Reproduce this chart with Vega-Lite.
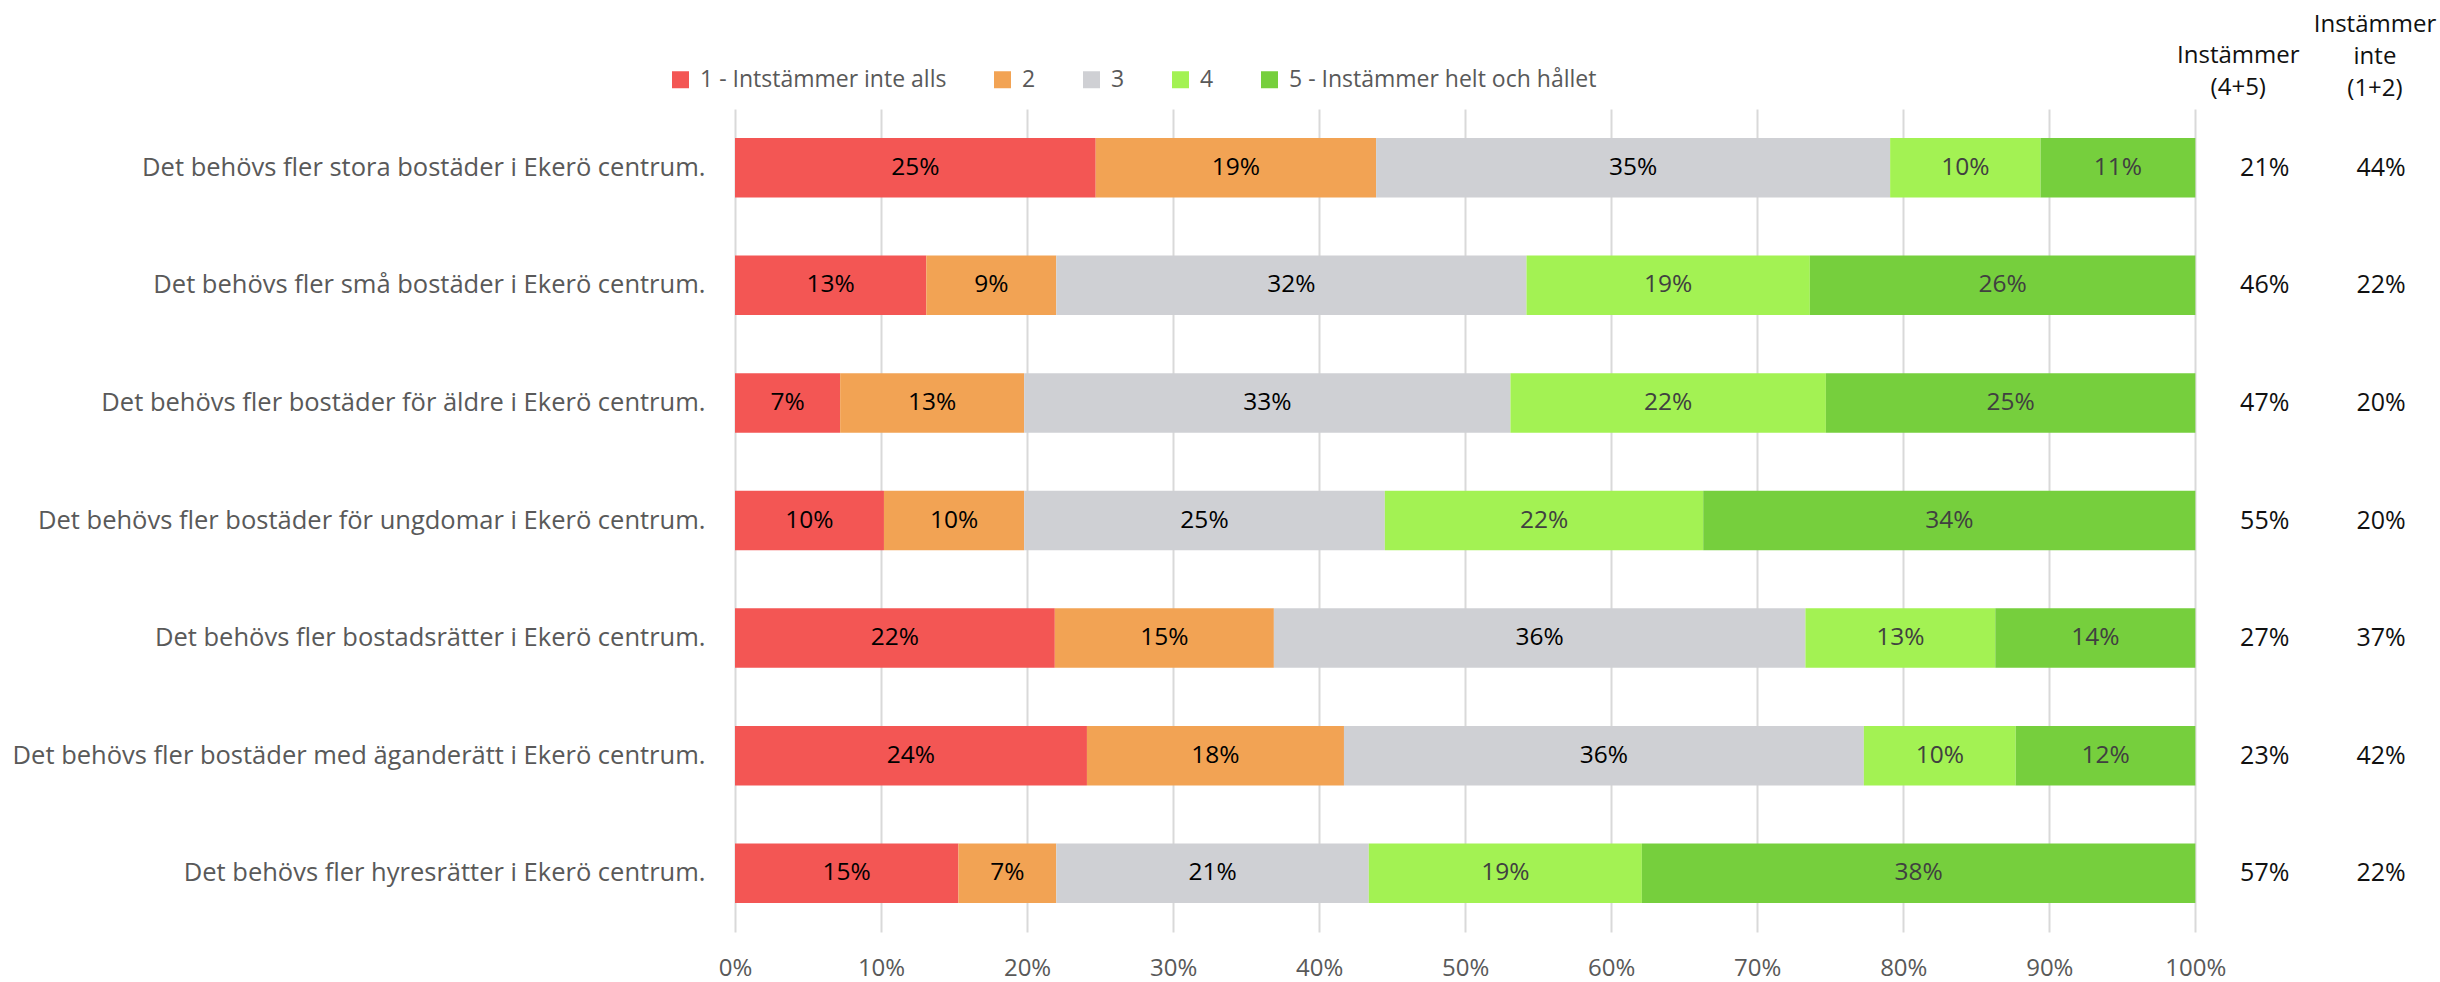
{
  "$schema": "https://vega.github.io/schema/vega-lite/v6.json",
  "autosize": {"type": "none"},
  "padding": {"left": 735, "top": 109, "right": 11, "bottom": 50},
  "width": 1694,
  "height": 823,
  "background": "white",
  "config": {"view": {"stroke": null}, "font": "Open Sans"},
  "datasets": {
    "bars": [
      {"q": "Det behövs fler stora bostäder i Ekerö centrum.", "cat": "1 - Intstämmer inte alls", "v": 0.247},
      {"q": "Det behövs fler stora bostäder i Ekerö centrum.", "cat": "2", "v": 0.192},
      {"q": "Det behövs fler stora bostäder i Ekerö centrum.", "cat": "3", "v": 0.352},
      {"q": "Det behövs fler stora bostäder i Ekerö centrum.", "cat": "4", "v": 0.103},
      {"q": "Det behövs fler stora bostäder i Ekerö centrum.", "cat": "5 - Instämmer helt och hållet", "v": 0.106},
      {"q": "Det behövs fler små bostäder i Ekerö centrum.", "cat": "1 - Intstämmer inte alls", "v": 0.131},
      {"q": "Det behövs fler små bostäder i Ekerö centrum.", "cat": "2", "v": 0.089},
      {"q": "Det behövs fler små bostäder i Ekerö centrum.", "cat": "3", "v": 0.322},
      {"q": "Det behövs fler små bostäder i Ekerö centrum.", "cat": "4", "v": 0.194},
      {"q": "Det behövs fler små bostäder i Ekerö centrum.", "cat": "5 - Instämmer helt och hållet", "v": 0.264},
      {"q": "Det behövs fler bostäder för äldre i Ekerö centrum.", "cat": "1 - Intstämmer inte alls", "v": 0.072},
      {"q": "Det behövs fler bostäder för äldre i Ekerö centrum.", "cat": "2", "v": 0.126},
      {"q": "Det behövs fler bostäder för äldre i Ekerö centrum.", "cat": "3", "v": 0.333},
      {"q": "Det behövs fler bostäder för äldre i Ekerö centrum.", "cat": "4", "v": 0.216},
      {"q": "Det behövs fler bostäder för äldre i Ekerö centrum.", "cat": "5 - Instämmer helt och hållet", "v": 0.253},
      {"q": "Det behövs fler bostäder för ungdomar i Ekerö centrum.", "cat": "1 - Intstämmer inte alls", "v": 0.102},
      {"q": "Det behövs fler bostäder för ungdomar i Ekerö centrum.", "cat": "2", "v": 0.096},
      {"q": "Det behövs fler bostäder för ungdomar i Ekerö centrum.", "cat": "3", "v": 0.247},
      {"q": "Det behövs fler bostäder för ungdomar i Ekerö centrum.", "cat": "4", "v": 0.218},
      {"q": "Det behövs fler bostäder för ungdomar i Ekerö centrum.", "cat": "5 - Instämmer helt och hållet", "v": 0.337},
      {"q": "Det behövs fler bostadsrätter i Ekerö centrum.", "cat": "1 - Intstämmer inte alls", "v": 0.219},
      {"q": "Det behövs fler bostadsrätter i Ekerö centrum.", "cat": "2", "v": 0.150},
      {"q": "Det behövs fler bostadsrätter i Ekerö centrum.", "cat": "3", "v": 0.364},
      {"q": "Det behövs fler bostadsrätter i Ekerö centrum.", "cat": "4", "v": 0.130},
      {"q": "Det behövs fler bostadsrätter i Ekerö centrum.", "cat": "5 - Instämmer helt och hållet", "v": 0.137},
      {"q": "Det behövs fler bostäder med äganderätt i Ekerö centrum.", "cat": "1 - Intstämmer inte alls", "v": 0.241},
      {"q": "Det behövs fler bostäder med äganderätt i Ekerö centrum.", "cat": "2", "v": 0.176},
      {"q": "Det behövs fler bostäder med äganderätt i Ekerö centrum.", "cat": "3", "v": 0.356},
      {"q": "Det behövs fler bostäder med äganderätt i Ekerö centrum.", "cat": "4", "v": 0.104},
      {"q": "Det behövs fler bostäder med äganderätt i Ekerö centrum.", "cat": "5 - Instämmer helt och hållet", "v": 0.123},
      {"q": "Det behövs fler hyresrätter i Ekerö centrum.", "cat": "1 - Intstämmer inte alls", "v": 0.153},
      {"q": "Det behövs fler hyresrätter i Ekerö centrum.", "cat": "2", "v": 0.067},
      {"q": "Det behövs fler hyresrätter i Ekerö centrum.", "cat": "3", "v": 0.214},
      {"q": "Det behövs fler hyresrätter i Ekerö centrum.", "cat": "4", "v": 0.187},
      {"q": "Det behövs fler hyresrätter i Ekerö centrum.", "cat": "5 - Instämmer helt och hållet", "v": 0.379}
    ],
    "totals": [
      {"q": "Det behövs fler stora bostäder i Ekerö centrum.", "agree": 0.21, "disagree": 0.44},
      {"q": "Det behövs fler små bostäder i Ekerö centrum.", "agree": 0.46, "disagree": 0.22},
      {"q": "Det behövs fler bostäder för äldre i Ekerö centrum.", "agree": 0.47, "disagree": 0.20},
      {"q": "Det behövs fler bostäder för ungdomar i Ekerö centrum.", "agree": 0.55, "disagree": 0.20},
      {"q": "Det behövs fler bostadsrätter i Ekerö centrum.", "agree": 0.27, "disagree": 0.37},
      {"q": "Det behövs fler bostäder med äganderätt i Ekerö centrum.", "agree": 0.23, "disagree": 0.42},
      {"q": "Det behövs fler hyresrätter i Ekerö centrum.", "agree": 0.57, "disagree": 0.22}
    ]
  },
  "layer": [
    {
      "data": {"name": "bars"},
      "mark": {"type": "bar"},
      "encoding": {
        "y": {
          "field": "q", "type": "nominal", "sort": null,
          "scale": {"paddingInner": 0.494, "paddingOuter": 0.247},
          "axis": {"title": null, "ticks": false, "tickSize": 0, "domain": false, "grid": false, "labelPadding": 30, "labelFontSize": 25.5, "labelColor": "#595959", "labelFont": "Open Sans", "labelLimit": 1000}
        },
        "x": {
          "field": "v", "type": "quantitative", "stack": "zero",
          "scale": {"domain": [0, 1.16], "nice": false},
          "axis": {"title": null, "values": [0, 0.1, 0.2, 0.3, 0.4, 0.5, 0.6, 0.7, 0.8, 0.9, 1], "format": ".0%", "grid": true, "gridColor": "#D9D9D9", "gridWidth": 2, "ticks": false, "tickSize": 0, "domain": false, "labelFontSize": 24, "labelColor": "#595959", "labelFont": "Open Sans", "labelPadding": 24, "labelFlush": false}
        },
        "color": {
          "field": "cat", "type": "nominal",
          "scale": {
            "domain": ["1 - Intstämmer inte alls", "2", "3", "4", "5 - Instämmer helt och hållet"],
            "range": ["#F35654", "#F2A354", "#CFD0D4", "#A3F253", "#76CF3D"]
          },
          "legend": {"title": null, "orient": "none", "legendX": -66, "legendY": -41, "direction": "horizontal", "symbolType": "square", "symbolSize": 289, "symbolStrokeWidth": 0, "labelFontSize": 23, "labelColor": "#595959", "labelFont": "Open Sans", "columnPadding": 44, "labelOffset": 8, "labelLimit": 500, "padding": 0}
        },
        "order": {"field": "cat"}
      }
    },
    {
      "data": {"name": "bars"},
      "mark": {"type": "text", "fontSize": 24.5, "font": "Open Sans", "align": "center", "baseline": "middle"},
      "encoding": {
        "y": {"field": "q", "type": "nominal", "sort": null},
        "x": {"field": "v", "type": "quantitative", "stack": "zero", "bandPosition": 0.5},
        "detail": {"field": "cat"},
        "order": {"field": "cat"},
        "text": {"field": "v", "type": "quantitative", "format": ".0%"},
        "color": {"condition": {"test": "datum.cat === '4' || datum.cat === '5 - Instämmer helt och hållet'", "value": "#404040"}, "value": "#000000"}
      }
    },
    {
      "data": {"name": "totals"},
      "mark": {"type": "text", "fontSize": 25, "font": "Open Sans", "align": "center", "baseline": "middle", "color": "#111111"},
      "encoding": {
        "y": {"field": "q", "type": "nominal", "sort": null},
        "x": {"datum": 1.0475, "type": "quantitative"},
        "text": {"field": "agree", "type": "quantitative", "format": ".0%"}
      }
    },
    {
      "data": {"name": "totals"},
      "mark": {"type": "text", "fontSize": 25, "font": "Open Sans", "align": "center", "baseline": "middle", "color": "#111111"},
      "encoding": {
        "y": {"field": "q", "type": "nominal", "sort": null},
        "x": {"datum": 1.1272, "type": "quantitative"},
        "text": {"field": "disagree", "type": "quantitative", "format": ".0%"}
      }
    },
    {
      "data": {"values": [{}]},
      "mark": {"type": "text", "fontSize": 24, "font": "Open Sans", "align": "center", "baseline": "middle", "color": "#111111", "lineHeight": 32, "dy": -112, "text": ["Instämmer", "(4+5)"]},
      "encoding": {
        "y": {"datum": "Det behövs fler stora bostäder i Ekerö centrum.", "type": "nominal"},
        "x": {"datum": 1.0294, "type": "quantitative"}
      }
    },
    {
      "data": {"values": [{}]},
      "mark": {"type": "text", "fontSize": 24, "font": "Open Sans", "align": "center", "baseline": "middle", "color": "#111111", "lineHeight": 32, "dy": -143, "text": ["Instämmer", "inte", "(1+2)"]},
      "encoding": {
        "y": {"datum": "Det behövs fler stora bostäder i Ekerö centrum.", "type": "nominal"},
        "x": {"datum": 1.123, "type": "quantitative"}
      }
    }
  ]
}
